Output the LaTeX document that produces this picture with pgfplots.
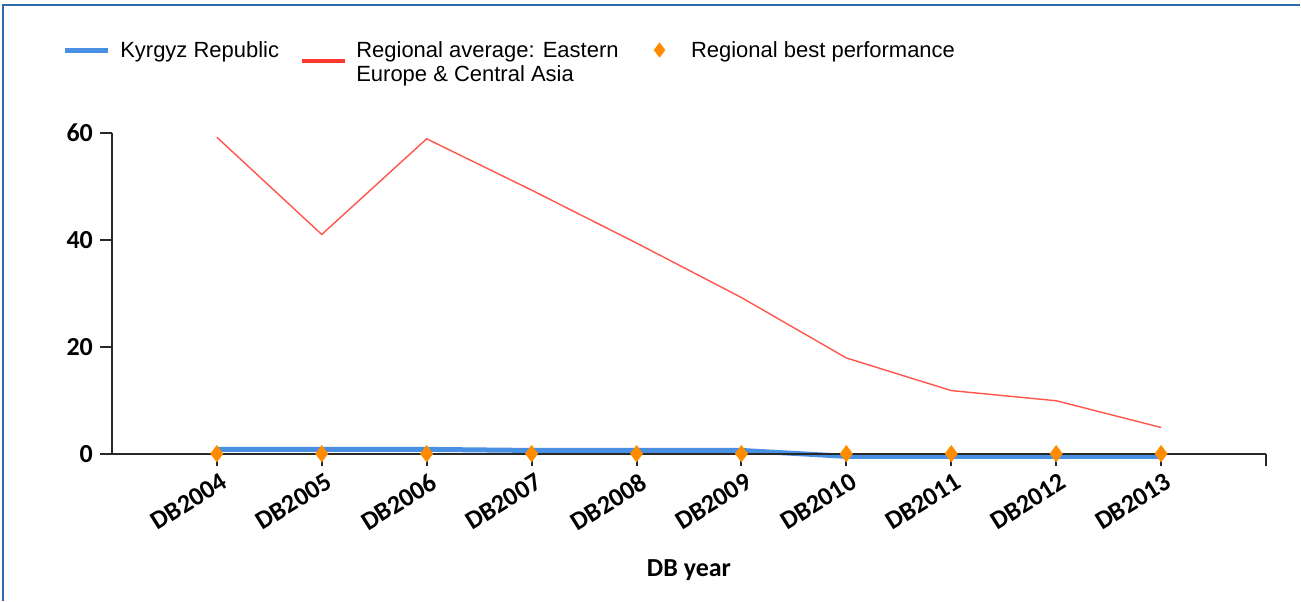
\documentclass[border=0pt]{standalone}
\usepackage{fontspec}
\setmainfont{Liberation Sans}
\newfontfamily\carlito{Carlito}
\usepackage{pgfplots}
\pgfplotsset{compat=1.18}

\definecolor{kgzblue}{RGB}{74,144,226}
\definecolor{avgred}{RGB}{255,55,45}
\definecolor{bestorange}{RGB}{255,140,0}
\definecolor{framebl}{RGB}{45,105,175}
\definecolor{axgray}{RGB}{40,40,40}

\begin{document}
\begin{tikzpicture}
\begin{axis}[
    at={(0,0)}, anchor=south west,
    scale only axis,
    width=577.5pt, height=160.5pt,
    xmin=-1, xmax=10,
    ymin=0, ymax=60,
    xtick={0,...,9},
    xticklabels={DB2004,DB2005,DB2006,DB2007,DB2008,DB2009,DB2010,DB2011,DB2012,DB2013},
    extra x ticks={10}, extra x tick labels={},
    ytick={0,20,40,60},
    axis x line*=bottom, axis y line*=left,
    axis line style={axgray, line width=1pt},
    tick align=outside, major tick length=6pt,
    tick style={axgray, line width=1pt},
    axis on top, clip=false,
    /pgf/number format/assume math mode=true,
    ticklabel style={font=\carlito\bfseries\fontsize{13}{15}\selectfont},
    xticklabel style={rotate=32, anchor=north east, xshift=3pt},
    xlabel={DB year},
    xlabel style={font=\carlito\bfseries\fontsize{13}{15}\selectfont, yshift=6pt},
    legend columns=3,
    legend style={at={(-0.0433,1.30)}, anchor=north west, draw=none, fill=none,
        inner sep=0pt, font=\fontsize{11}{12}\selectfont,
        cells={anchor=base west},
        /tikz/every odd column/.append style={column sep=3pt}},
]
\addplot[kgzblue, line width=2.5pt,
    legend image code/.code={\draw[kgzblue, line width=2.5pt] (0pt,0.35em) -- (21.5pt,0.35em);}]
    coordinates {(0,0.8)(1,0.8)(2,0.8)(3,0.6)(4,0.6)(5,0.6)(6,-0.5)(7,-0.5)(8,-0.5)(9,-0.5)};
\addlegendentry{\makebox[88pt][l]{Kyrgyz Republic}}
\addplot[avgred!85, line width=0.7pt,
    legend image code/.code={\draw[avgred, line width=1.6pt] (0pt,-0.2em) -- (21.5pt,-0.2em);}]
    coordinates {(0,59.2)(1,41)(2,58.9)(3,49.3)(4,39.4)(5,29.2)(6,17.9)(7,11.8)(8,9.9)(9,4.9)};
\addlegendentry{\parbox[t]{139pt}{Regional average: Eastern\\Europe \& Central Asia}}
\addplot[only marks, mark=diamond*, mark size=4pt, color=bestorange,
    legend image code/.code={\path[draw=none, fill=none] (0pt,0.35em) -- (21.5pt,0.35em);
        \draw[bestorange] plot[mark=diamond*, mark size=3.5pt] coordinates {(10.75pt,0.35em)};}]
    coordinates {(0,0)(1,0)(2,0)(3,0)(4,0)(5,0)(6,0)(7,0)(8,0)(9,0)};
\addlegendentry{Regional best performance}
\end{axis}
\pgfresetboundingbox
\path (-56pt,-73.5pt) rectangle (594.5pt,227pt);
\draw[framebl, line width=1pt] (-54.5pt,-73.5pt) -- (-54.5pt,224.5pt) -- (594.5pt,224.5pt);
\end{tikzpicture}
\end{document}
